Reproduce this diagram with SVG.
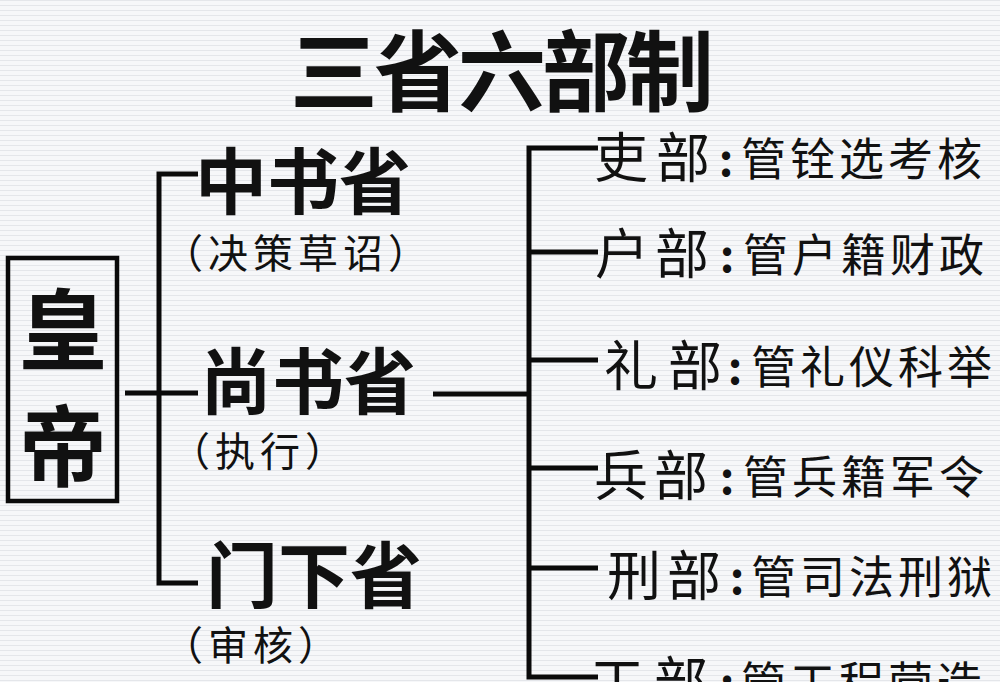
<svg xmlns="http://www.w3.org/2000/svg" width="1000" height="682" viewBox="0 0 1000 682">
<style>
.hei{font-family:"Noto Sans CJK SC","Noto Sans CJK JP",sans-serif;font-weight:700;fill:#111}
.sub{font-family:"Noto Sans CJK SC","Noto Sans CJK JP",sans-serif;font-weight:400;fill:#111;font-size:40px;text-anchor:middle;letter-spacing:5px}
.name{font-family:"Noto Sans CJK SC","Noto Sans CJK JP",sans-serif;font-weight:400;fill:#111;font-size:54px}
.desc{font-family:"Noto Sans CJK SC","Noto Sans CJK JP",sans-serif;font-weight:400;fill:#111;font-size:45px;letter-spacing:4px}
.colon{font-family:"Noto Sans CJK SC","Noto Sans CJK JP",sans-serif;font-weight:700;fill:#111;font-size:45px;text-anchor:middle}
.ln{fill:none;stroke:#0a0a0a;stroke-width:5}
</style>
<defs>
<pattern id="stripes" width="20" height="5" patternUnits="userSpaceOnUse">
<rect width="20" height="5" fill="#f6f7f9"/>
<rect y="0" width="20" height="1" fill="#e4e6ea"/>
</pattern>
</defs>
<rect width="1000" height="682" fill="url(#stripes)"/>
<g id="title"><text class="hei" x="500" y="104" font-size="88" text-anchor="middle" letter-spacing="-4">三省六部制</text></g>
<g id="emperor">
<rect x="8" y="258" width="109" height="243" fill="none" stroke="#0a0a0a" stroke-width="4.5"/>
<text class="hei" x="63" y="362" font-size="88" text-anchor="middle">皇</text>
<text class="hei" x="63" y="479" font-size="88" text-anchor="middle">帝</text>
</g>
<g id="connectors">
<path class="ln" d="M198,174 H159 V583 H198"/>
<path class="ln" d="M125,393 H198"/>
<path class="ln" d="M433,394 H529"/>
<path class="ln" d="M598,148 H529 V677 H598"/>
<path class="ln" d="M529,252 H598 M529,360 H598 M529,468 H598 M529,568 H598"/>
</g>
<g id="zhongshu">
<text class="hei" x="303" y="208" font-size="72" text-anchor="middle">中书省</text>
<text class="sub" x="298" y="268">（决策草诏）</text>
</g>
<g id="shangshu">
<text class="hei" x="308" y="408" font-size="72" text-anchor="middle">尚书省</text>
<text class="sub" x="260" y="466">（执行）</text>
</g>
<g id="menxia">
<text class="hei" x="314" y="602" font-size="72" text-anchor="middle">门下省</text>
<text class="sub" x="253" y="660">（审核）</text>
</g>
<g id="li-bu">
<text class="name" y="178"><tspan x="594">吏</tspan><tspan x="656">部</tspan></text>
<text class="colon" x="726" y="176">:</text>
<text class="desc" x="741" y="176">管铨选考核</text>
</g>
<g id="hu-bu">
<text class="name" y="274"><tspan x="595">户</tspan><tspan x="655">部</tspan></text>
<text class="colon" x="727" y="272">:</text>
<text class="desc" x="743" y="272">管户籍财政</text>
</g>
<g id="li-bu2">
<text class="name" y="386"><tspan x="604">礼</tspan><tspan x="668">部</tspan></text>
<text class="colon" x="735" y="384">:</text>
<text class="desc" x="751" y="384">管礼仪科举</text>
</g>
<g id="bing-bu">
<text class="name" y="496"><tspan x="594">兵</tspan><tspan x="654">部</tspan></text>
<text class="colon" x="727" y="494">:</text>
<text class="desc" x="743" y="494">管兵籍军令</text>
</g>
<g id="xing-bu">
<text class="name" y="596"><tspan x="607">刑</tspan><tspan x="667">部</tspan></text>
<text class="colon" x="737" y="594">:</text>
<text class="desc" x="751" y="594">管司法刑狱</text>
</g>
<g id="gong-bu">
<text class="name" y="702"><tspan x="590">工</tspan><tspan x="654">部</tspan></text>
<text class="colon" x="727" y="700">:</text>
<text class="desc" x="741" y="700">管工程营造</text>
</g>
</svg>
